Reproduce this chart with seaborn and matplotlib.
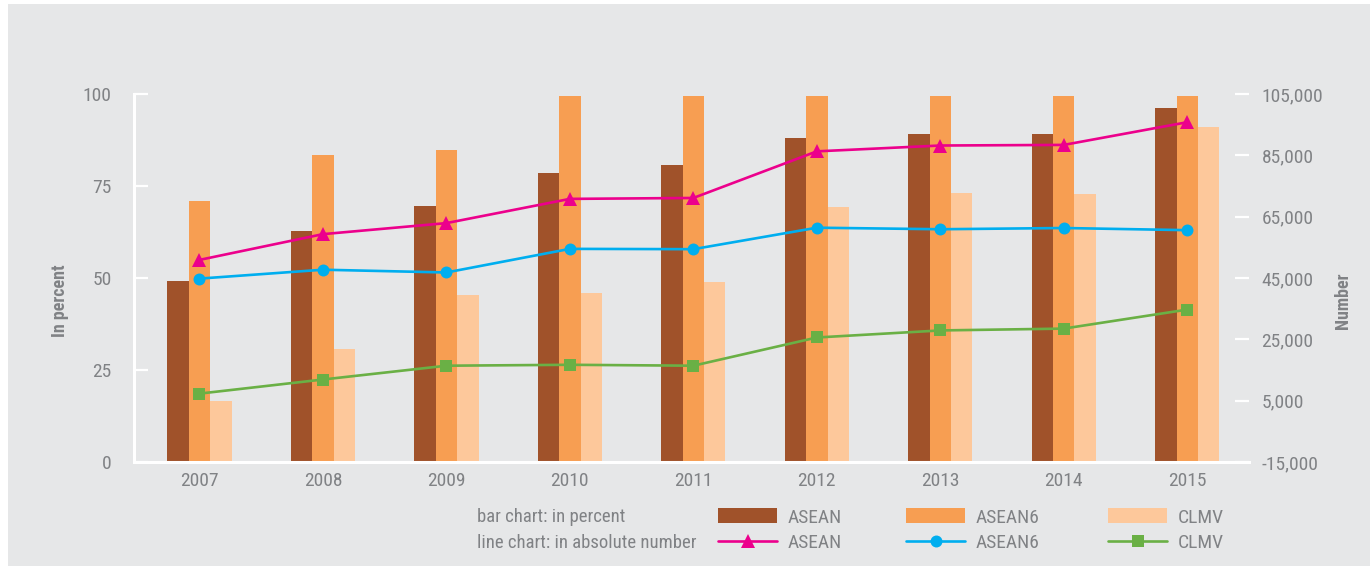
import matplotlib
matplotlib.use("Agg")
import matplotlib.pyplot as plt
from matplotlib import font_manager
from matplotlib.patches import Patch, Rectangle
from matplotlib.lines import Line2D
from matplotlib.ticker import FuncFormatter
import numpy as np
import pandas as pd
import seaborn as sns

# ---------------- data ----------------
years = ["2007", "2008", "2009", "2010", "2011", "2012", "2013", "2014", "2015"]
bar_asean = [49.2, 62.8, 69.6, 78.5, 80.7, 88.0, 89.1, 89.1, 96.2]
bar_asean6 = [71.0, 83.4, 84.8, 99.5, 99.5, 99.5, 99.5, 99.5, 99.5]
bar_clmv = [16.6, 30.7, 45.4, 46.0, 49.0, 69.3, 73.1, 72.8, 91.0]
line_asean = [50900, 59300, 62900, 70800, 71100, 86300, 88200, 88400, 95800]
line_asean6 = [44800, 47700, 46800, 54500, 54400, 61400, 60900, 61300, 60600]
line_clmv = [7300, 11900, 16400, 16700, 16400, 25600, 27900, 28500, 34700]
series = ["ASEAN", "ASEAN6", "CLMV"]
left_ticks = [0, 25, 50, 75, 100]
right_ticks = [-15000, 5000, 25000, 45000, 65000, 85000, 105000]

# ---------------- style ----------------
BG = "#e6e7e8"
TXT = "#808285"
bar_colors = ["#a0522a", "#f79e52", "#fdc89b"]
line_colors = ["#ec008c", "#00aeef", "#6ab045"]
markers = ["^", "o", "s"]
msizes = [10.5, 8.6, 8.0]

available = {f.name for f in font_manager.fontManager.ttflist}
fam = "DejaVu Sans"
for cand in ["Liberation Sans Narrow", "Roboto Condensed", "Liberation Sans"]:
    if cand in available:
        fam = cand
        break

sns.set_theme(style="white")
plt.rcParams["font.family"] = [fam, "DejaVu Sans"]

W, H = 1370, 566
fig = plt.figure(figsize=(W / 100, H / 100), dpi=100)
fig.patch.set_facecolor("white")
fig.add_artist(Rectangle((8 / W, 0), 1 - 8 / W, 1 - 4 / H, transform=fig.transFigure,
                         facecolor=BG, edgecolor="none", zorder=-10))

ax_l, ax_r, ax_b, ax_t = 134, 1249, 462, 94
ax = fig.add_axes([ax_l / W, 1 - ax_b / H, (ax_r - ax_l) / W, (ax_b - ax_t) / H])
ax.set_facecolor("none")

df = pd.DataFrame({
    "year": years * 3,
    "value": bar_asean + bar_asean6 + bar_clmv,
    "series": [s for s in series for _ in years],
})
sns.barplot(data=df, x="year", y="value", hue="series", palette=bar_colors,
            width=0.52, saturation=1, ax=ax, legend=False, zorder=2,
            edgecolor="none", linewidth=0)

ax.set_ylim(0, 100)
ax.set_xlim(-0.53, 8.5)
ax.set_yticks(left_ticks)
ax.set_xlabel("")
ax.set_ylabel("")
for s in ["top", "right"]:
    ax.spines[s].set_visible(False)
for s in ["left", "bottom"]:
    ax.spines[s].set_color("white")
    ax.spines[s].set_linewidth(2.2)
ax.tick_params(axis="y", direction="in", length=10, width=1.6, color="white",
               labelsize=14, labelcolor=TXT, pad=16, left=True)
ax.tick_params(axis="x", length=0, labelsize=14, labelcolor=TXT, pad=7)

ax2 = ax.twinx()
ax2.set_facecolor("none")
xpos = np.arange(len(years))
for vals, c, m, ms in zip([line_asean, line_asean6, line_clmv], line_colors, markers, msizes):
    sns.lineplot(x=xpos, y=vals, ax=ax2, color=c, marker=m, markersize=ms,
                 markeredgewidth=0, linewidth=1.9, zorder=5)
ax2.set_ylim(-15000, 105000)
ax2.set_yticks(right_ticks)
ax2.yaxis.set_major_formatter(FuncFormatter(lambda v, p: f"{int(v):,}"))
for s in ax2.spines.values():
    s.set_visible(False)
ax2.tick_params(axis="y", direction="in", length=10, width=1.6, color="white",
                labelsize=14, labelcolor=TXT, pad=9, right=True)
ax2.set_xlim(-0.53, 8.5)

fig.text(60 / W, 1 - 301 / H, "In percent", rotation=90, ha="center", va="center",
         fontsize=13, fontweight="bold", color=TXT)
fig.text(1343 / W, 1 - 301 / H, "Number", rotation=90, ha="center", va="center",
         fontsize=13, fontweight="bold", color=TXT)

# ---------------- legend ----------------
fig.text(477 / W, 1 - 517 / H, "bar chart: in percent", ha="left", va="center",
         fontsize=13.5, color=TXT)
fig.text(477 / W, 1 - 543 / H, "line chart: in absolute number", ha="left", va="center",
         fontsize=13.5, color=TXT)
col_x = [718, 906, 1108]
for i, name in enumerate(series):
    handles = [
        Patch(facecolor=bar_colors[i], edgecolor="none", label=name),
        Line2D([], [], color=line_colors[i], marker=markers[i], markersize=msizes[i],
               markeredgewidth=0, linewidth=1.9, label=name),
    ]
    fig.legend(handles=handles, loc="center left", bbox_to_anchor=(col_x[i] / W, 1 - 530 / H),
               frameon=False, fontsize=14, labelcolor=TXT, handlelength=3.05,
               handleheight=0.8, handletextpad=0.55, labelspacing=0.35, borderpad=0,
               borderaxespad=0)

fig.savefig("out.png", dpi=100, facecolor=fig.get_facecolor())
